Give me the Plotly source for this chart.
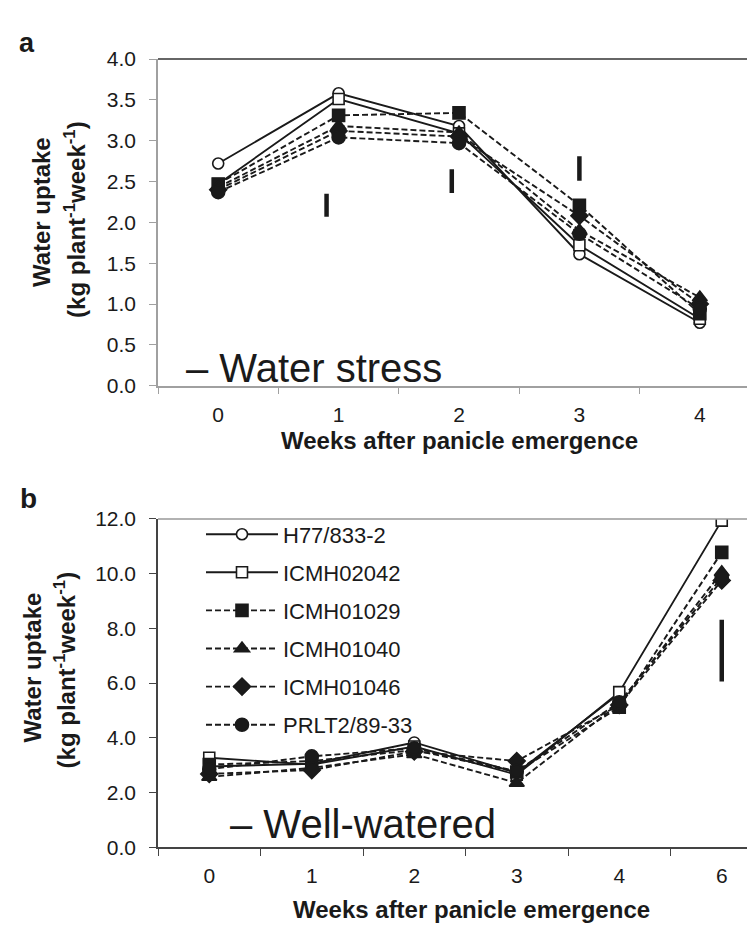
import plotly.graph_objects as go

# ---------------- data ----------------
weeks_a = ["0", "1", "2", "3", "4"]
weeks_b = ["0", "1", "2", "3", "4", "6"]

series_names = ["H77/833-2", "ICMH02042", "ICMH01029", "ICMH01040", "ICMH01046", "PRLT2/89-33"]

h77_a = [2.72, 3.58, 3.18, 1.61, 0.77]
icmh02042_a = [2.47, 3.51, 3.09, 1.72, 0.82]
icmh01029_a = [2.47, 3.31, 3.34, 2.21, 0.88]
icmh01040_a = [2.43, 3.18, 3.10, 1.90, 1.08]
icmh01046_a = [2.40, 3.12, 3.05, 2.08, 1.00]
prlt_a = [2.37, 3.04, 2.97, 1.86, 0.94]

h77_b = [2.95, 3.05, 3.83, 2.72, 5.62, None]
icmh02042_b = [3.27, 3.02, 3.68, 2.65, 5.67, 11.94]
icmh01029_b = [3.02, 3.15, 3.55, 2.75, 5.12, 10.78]
icmh01040_b = [2.57, 2.90, 3.40, 2.35, 5.25, 10.05]
icmh01046_b = [2.68, 2.82, 3.50, 3.15, 5.20, 9.75]
prlt_b = [2.85, 3.32, 3.62, 2.78, 5.30, 9.86]

# LSD bars: position (category index units), low, high
lsd_a_x = [0.90, 1.94, 3.00]
lsd_a_lo = [2.07, 2.36, 2.51]
lsd_a_hi = [2.35, 2.65, 2.81]
lsd_b_x = [5.00]
lsd_b_lo = [6.06]
lsd_b_hi = [8.32]

yticks_a = [0.0, 0.5, 1.0, 1.5, 2.0, 2.5, 3.0, 3.5, 4.0]
yticks_b = [0.0, 2.0, 4.0, 6.0, 8.0, 10.0, 12.0]

# ---------------- styling ----------------
W, H = 755, 925
FONT = "Liberation Sans, Arial, Helvetica, sans-serif"
INK = "#1a1a1a"


def px_x(x):
    return x / W


def px_y(y):
    return 1 - y / H


DASH = "6px,3px"
styles = [
    dict(symbol="circle", color="white", size=11, dash="solid"),
    dict(symbol="square", color="white", size=11, dash="solid"),
    dict(symbol="square", color=INK, size=12, dash=DASH),
    dict(symbol="triangle-up", color=INK, size=13, dash=DASH),
    dict(symbol="diamond", color=INK, size=13, dash=DASH),
    dict(symbol="circle", color=INK, size=13, dash=DASH),
]

data_a = [h77_a, icmh02042_a, icmh01029_a, icmh01040_a, icmh01046_a, prlt_a]
data_b = [h77_b, icmh02042_b, icmh01029_b, icmh01040_b, icmh01046_b, prlt_b]

xa = list(range(len(weeks_a)))
xb = list(range(len(weeks_b)))

fig = go.Figure()

for name, ys, st in zip(series_names, data_a, styles):
    fig.add_trace(go.Scatter(
        x=xa, y=ys, mode="lines+markers", name=name, showlegend=False,
        xaxis="x", yaxis="y",
        line=dict(color=INK, width=1.9, dash=st["dash"]),
        marker=dict(symbol=st["symbol"], size=st["size"], color=st["color"],
                    line=dict(color=INK, width=1.6)),
    ))

for i, (name, ys, st) in enumerate(zip(series_names, data_b, styles)):
    fig.add_trace(go.Scatter(
        x=xb, y=ys, mode="lines+markers", name=name, showlegend=True,
        legendgroup="g%d" % i,
        xaxis="x2", yaxis="y2",
        line=dict(color=INK, width=1.9, dash=st["dash"]),
        marker=dict(symbol=st["symbol"], size=st["size"], color=st["color"],
                    line=dict(color=INK, width=1.6)),
    ))


# LSD bars
def bar_xy(xs, lo, hi):
    bx, by = [], []
    for x, a, b in zip(xs, lo, hi):
        bx += [x, x, None]
        by += [a, b, None]
    return bx, by


bx, by = bar_xy(lsd_a_x, lsd_a_lo, lsd_a_hi)
fig.add_trace(go.Scatter(x=bx, y=by, mode="lines", showlegend=False, xaxis="x", yaxis="y",
                         line=dict(color=INK, width=4.5), hoverinfo="skip"))
bx, by = bar_xy(lsd_b_x, lsd_b_lo, lsd_b_hi)
fig.add_trace(go.Scatter(x=bx, y=by, mode="lines", showlegend=False, xaxis="x2", yaxis="y2",
                         line=dict(color=INK, width=4.5), hoverinfo="skip"))

tickfont = dict(family=FONT, size=21, color=INK)

common_x = dict(
    tickmode="array", ticks="", showgrid=False, zeroline=False, showline=True,
    linewidth=1.5, tickfont=tickfont, ticklabelstandoff=9,
)
common_y = dict(
    tickmode="array", ticks="outside", ticklen=7, tickwidth=1.2, showgrid=False,
    zeroline=False, showline=True, linewidth=1.5, tickfont=tickfont,
    tickformat=".1f", ticklabelstandoff=9,
)

fig.update_layout(
    width=W, height=H,
    margin=dict(l=0, r=0, t=0, b=0),
    paper_bgcolor="white", plot_bgcolor="white",
    font=dict(family=FONT, color=INK),
    xaxis=dict(domain=[px_x(150), px_x(752)], range=[-0.5, len(weeks_a) - 0.5],
               tickvals=xa, ticktext=weeks_a, anchor="y",
               linecolor="#a0a0a0",
               minor=dict(ticks="outside", ticklen=7, tickwidth=1.2, tickcolor="#a0a0a0",
                          tickmode="array", tickvals=[v - 0.5 for v in xa] + [len(xa) - 0.5]),
               **common_x),
    yaxis=dict(domain=[px_y(375), px_y(40)], range=[0, 4], tickvals=yticks_a,
               anchor="x", linecolor="#a0a0a0", tickcolor="#a0a0a0", **common_y),
    xaxis2=dict(domain=[px_x(150), 1.0], range=[-0.5, -0.5 + 605 / 102.5],
                tickvals=xb, ticktext=weeks_b, anchor="y2",
                linecolor="#444",
                minor=dict(ticks="outside", ticklen=7, tickwidth=1.2, tickcolor="#444",
                           tickmode="array", tickvals=[v - 0.5 for v in xb]),
                **common_x),
    yaxis2=dict(domain=[px_y(848.3), px_y(511.7)], range=[0, 12], tickvals=yticks_b,
                anchor="x2", linecolor="#444", tickcolor="#444", **common_y),
    legend=dict(
        x=px_x(193), y=px_y(506), xanchor="left", yanchor="top",
        font=dict(family=FONT, size=22, color=INK),
        itemwidth=72, tracegroupgap=6.5, bgcolor="rgba(0,0,0,0)",
        traceorder="grouped",
    ),
    showlegend=True,
)

# frame lines (top/right borders)
fig.add_shape(type="line", xref="x domain", yref="y domain", x0=0, x1=1, y0=1, y1=1,
              line=dict(color="#333", width=1.5))
fig.add_shape(type="line", xref="x domain", yref="y domain", x0=1, x1=1, y0=0, y1=1,
              line=dict(color="#555", width=1.5))
fig.add_shape(type="line", xref="x2 domain", yref="y2 domain", x0=0, x1=1, y0=1, y1=1,
              line=dict(color="#999", width=1.5))

title_font = dict(family=FONT, size=24, color=INK)

annotations = [
    dict(text="<b>a</b>", x=px_x(19), y=px_y(24), font=dict(family=FONT, size=27, color=INK)),
    dict(text="<b>b</b>", x=px_x(20), y=px_y(491), font=dict(family=FONT, size=28, color=INK)),
    dict(text="<b>Water uptake</b>", x=px_x(33), y=px_y(197), textangle=-90, font=title_font),
    dict(text="<b>(kg plant<sup>-1</sup>week<sup>-1</sup>)</b>", x=px_x(67), y=px_y(205),
         textangle=-90, font=title_font),
    dict(text="<b>Water uptake</b>", x=px_x(24), y=px_y(664), textangle=-90, font=title_font),
    dict(text="<b>(kg plant<sup>-1</sup>week<sup>-1</sup>)</b>", x=px_x(57), y=px_y(667),
         textangle=-90, font=title_font),
    dict(text="<b>Weeks after panicle emergence</b>", x=px_x(451), y=px_y(431), font=title_font),
    dict(text="<b>Weeks after panicle emergence</b>", x=px_x(463), y=px_y(912), font=title_font),
]
for a in annotations:
    fig.add_annotation(xref="paper", yref="paper", showarrow=False,
                       xanchor="center", yanchor="middle", **a)

fig.add_annotation(text="– Water stress", xref="paper", yref="paper",
                   x=px_x(176), y=px_y(357), xanchor="left", yanchor="middle",
                   showarrow=False, font=dict(family=FONT, size=40, color=INK))
fig.add_annotation(text="– Well-watered", xref="paper", yref="paper",
                   x=px_x(220), y=px_y(825), xanchor="left", yanchor="middle",
                   showarrow=False, font=dict(family=FONT, size=40, color=INK))

fig.write_html("out.html")
